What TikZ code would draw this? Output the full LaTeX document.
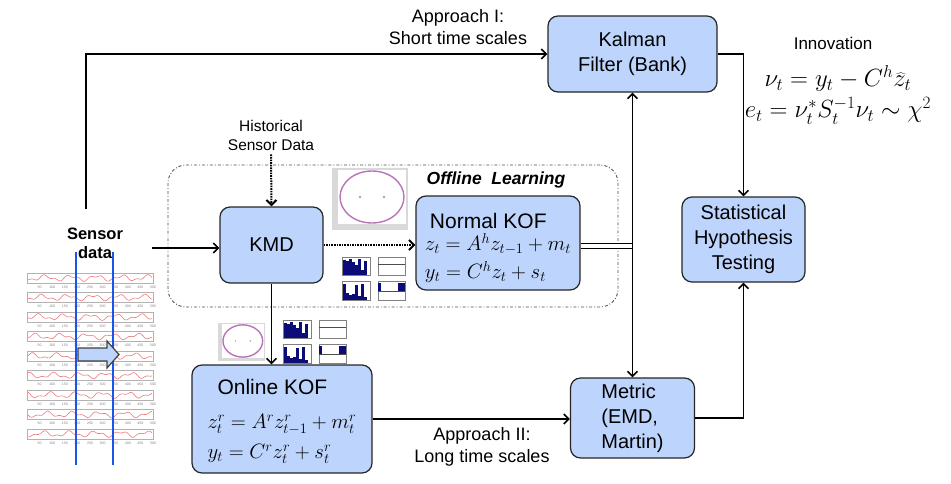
\documentclass[tikz,border=0pt]{standalone}
\usepackage{fontspec}
\setmainfont{Liberation Sans}
\usetikzlibrary{positioning,arrows.meta,shapes}
\definecolor{boxblue}{RGB}{189,212,252}
\definecolor{sigred}{RGB}{240,120,120}
\definecolor{lineblue}{RGB}{25,85,235}
\definecolor{navybar}{RGB}{12,12,120}
\tikzset{
  blk/.style={draw=black!85, fill=boxblue, line width=1.2pt, rounded corners=10pt,
    align=center, inner sep=2pt, font=\fontsize{20}{25}\selectfont},
  boxtxt/.style={align=left, inner sep=0pt, font=\fontsize{18}{24}\selectfont},
  lbl/.style={align=center, inner sep=0pt, font=\fontsize{18}{22}\selectfont},
  arr/.style={line width=1.6pt, -{Straight Barb[length=5pt,width=10pt]}},
  dotarr/.style={arr, densely dotted, line width=2pt},
  dbl/.style={double, double distance=4pt, line width=1.2pt},
  ticklbl/.style={inner sep=0pt, text=gray, font=\fontsize{3.5}{4}\selectfont},
  ellplot/.pic={
    \fill[gray!30] (0,0) rectangle (76,62);
    \fill[white] (6,2) rectangle (74,56);
    \draw[violet!55, line width=1.4pt] (40,29) ellipse [x radius=32, y radius=26];
    \fill[gray!70] (28,29) circle (1.3) (52,29) circle (1.3);
  },
  histgrid/.pic={
    % upper left
    \draw[gray, line width=0.3pt] (0,0) rectangle (28,18);
    \foreach \b/\h in {1/15,4/14,7/16,10/13,13/10,16/16,19/5,22/14}
      \fill[navybar] (\b,18) rectangle (\b+2.6,18-\h);
    % upper right
    \draw[gray, line width=0.3pt] (36,0) rectangle (63,18);
    \draw[black!70, line width=0.6pt] (36,7) -- (63,7);
    % lower left
    \draw[gray, line width=0.3pt] (0,24) rectangle (28,43);
    \foreach \b/\h in {1/16,4/7,7/5,10/6,13/15,16/4,19/16,22/3}
      \fill[navybar] (\b,43) rectangle (\b+2.6,43-\h);
    % lower right
    \draw[gray, line width=0.3pt] (36,24) rectangle (63,43);
    \fill[navybar] (36,26) rectangle (39,34);
    \fill[navybar] (56,26) rectangle (63,34);
    \draw[black!70, line width=0.5pt] (36,34) -- (63,34);
  }
}
\begin{document}
\begin{tikzpicture}[x=1pt, y=-1pt]
  \useasboundingbox (0,0) rectangle (951,483);

  % offline learning frame
  \node[draw=black!70, line width=0.9pt, dash dot, rounded corners=18pt,
    minimum width=450pt, minimum height=142pt] (offline) at (393,236) {};
  \node[inner sep=0pt, font=\fontsize{17.5}{20}\bfseries\itshape\selectfont]
    (offlbl) at (496,180) {Offline\ \ Learning};

  % sensor data panel
  \foreach \k in {0,...,8}{
    \pgfmathsetmacro{\yt}{273+19.5*\k}
    \draw[gray!60, line width=0.4pt] (27,\yt) rectangle (153,\yt+10);
    \draw[sigred, line width=0.6pt] plot[domain=28:152, samples=70, smooth]
      (\x, {\yt+5+2.2*sin(14*\x+47*\k)+1.3*sin(31*\x+83*\k)});
    \foreach \v in {50,100,...,500}
      \node[ticklbl] at ({27+0.252*\v},\yt+14) {\v};
  }
  \draw[lineblue, line width=2.4pt] (76,252) -- (76,465);
  \draw[lineblue, line width=2.4pt] (113,252) -- (113,465);
  \draw[black!75, fill=boxblue, line width=1.2pt]
    (78,348) -- (107,348) -- (107,341) -- (119,354.5) -- (107,368) -- (107,361) -- (78,361) -- cycle;

  \node[align=center, inner sep=0pt, font=\fontsize{16.5}{19}\bfseries\selectfont]
    (sens) at (95,243) {Sensor\\data};
  \coordinate (sensout) at (152,248);

  % blocks
  \node[blk, minimum width=169pt, minimum height=76pt] (kalman) at (632.5,54) {Kalman\\Filter (Bank)};
  \node[blk, minimum width=123pt, minimum height=85pt] (sht) at (743.5,239.5) {Statistical\\Hypothesis\\Testing};
  \node[blk, minimum width=124pt, minimum height=80pt, align=left] (metric) at (632.5,418) {Metric\\(EMD,\\Martin)};
  \node[blk, minimum width=103pt, minimum height=76pt] (kmd) at (271.5,245) {KMD};
  \node[blk, minimum width=164pt, minimum height=94pt] (nkof) at (498,243) {};
  \node[boxtxt, font=\fontsize{20}{24}\selectfont] (nkoftxt) at ([xshift=0pt,yshift=-5pt]nkof.center)
    {\hspace*{5pt}{\fontsize{21}{24}\selectfont Normal KOF}\\[-2pt]
     $z_t = A^h z_{t-1} + m_t$\\[4pt]
     $y_t = C^h z_t + s_t$};
  \node[blk, minimum width=180pt, minimum height=108pt] (okof) at (282,419) {};
  \node[boxtxt, font=\fontsize{19.5}{24}\selectfont] (okoftxt) at ([xshift=0pt,yshift=-2.5pt]okof.center)
    {\hspace*{10pt}{\fontsize{21}{24}\selectfont Online KOF}\\[10pt]
     $z^{r}_{t} = A^{r} z^{r}_{t-1} + m^{r}_{t}$\\[6pt]
     $y_t = C^{r} z^{r}_{t} + s^{r}_{t}$};

  % small result plots
  \pic at (332,168) {ellplot};
  \pic at (342,257) {histgrid};
  \pic[scale=0.62] at (218,323) {ellplot};
  \pic at (283,320) {histgrid};

  % texts
  \node[lbl] (appone) at (458,27) {Approach I:\\Short time scales};
  \node[lbl] (apptwo) at (482,447) {Approach II:\\Long time scales};
  \node[lbl, font=\fontsize{15.5}{19}\selectfont] (hist) at (271,135) {Historical\\Sensor Data};
  \node[lbl, font=\fontsize{17}{20}\selectfont] (innov) at (833,43) {Innovation};
  \node[align=center, inner sep=0pt, font=\fontsize{23}{23}\selectfont] (eqs) at (838,95)
    {$\nu_t = y_t - C^h \widehat{z}_t$\\[5pt]
     $e_t = \nu_t^{*} S_t^{-1} \nu_t \sim \chi^2$};

  % connectors
  \draw[arr] ([xshift=-9pt,yshift=18pt]sens.north) |- (kalman.west);
  \draw[arr] (sensout) -- (sensout -| kmd.west);
  \draw[dotarr] ([yshift=-4pt]hist.south) -- (kmd.north);
  \draw[dotarr] (kmd.east) -- (kmd.east -| nkof.west);
  \draw[arr] (kmd.south) -- (kmd.south |- okof.north);
  \coordinate (jn) at ([yshift=-3pt]nkof.east -| kalman.south);
  \draw[dbl] ([yshift=-3pt]nkof.east) -- (jn);
  \draw[arr] (jn) -- (kalman.south);
  \draw[arr] (jn) -- (metric.north);
  \draw[arr] (okof.east) -- (okof.east -| metric.west);
  \draw[arr] (kalman.east) -| (sht.north);
  \draw[arr] (metric.east) -| (sht.south);
\end{tikzpicture}
\end{document}
